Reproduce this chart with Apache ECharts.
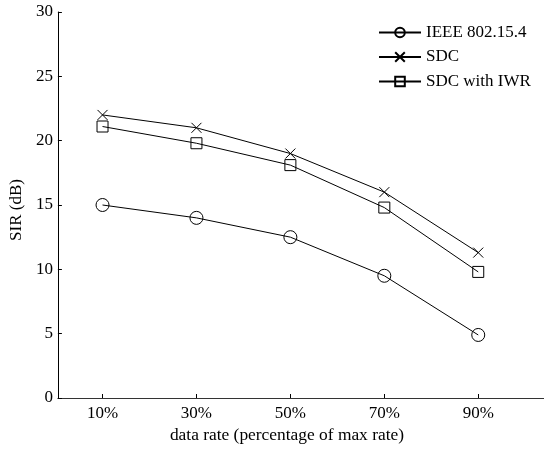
<!DOCTYPE html>
<html>
<head>
<meta charset="utf-8">
<script src="https://cdn.jsdelivr.net/npm/echarts@6/dist/echarts.min.js"></script>
<style>html,body{margin:0;padding:0;background:#fff}#c{width:544px;height:449px}</style>
</head>
<body>
<div id="c"></div>
<script>
const categories = ['10%', '30%', '50%', '70%', '90%'];
const ratePositions = [10, 30, 50, 70, 90];
const ieee = [15, 14, 12.5, 9.5, 4.9];
const sdc = [22, 21, 19, 16, 11.3];
const sdcIwr = [21.1, 19.8, 18.1, 14.8, 9.8];
const yTicks = [0, 5, 10, 15, 20, 25, 30];

const FONT = 'Liberation Serif';
function pts(vals) { return vals.map((v, i) => [ratePositions[i], v]); }
const common = {
  type: 'line',
  lineStyle: { color: '#000', width: 1 },
  itemStyle: { color: 'transparent', borderColor: '#000', borderWidth: 1 },
  emphasis: { disabled: true },
  animation: false
};
const chart = echarts.init(document.getElementById('c'));
chart.setOption({
  backgroundColor: '#fff',
  animation: false,
  textStyle: { fontFamily: FONT, color: '#000' },
  grid: { left: 54, right: 0, top: 12, bottom: 51, containLabel: false },
  legend: {
    left: 378, top: 24, orient: 'vertical', padding: 0,
    itemWidth: 42, itemHeight: 12, itemGap: 7.5,
    textStyle: { fontFamily: FONT, fontSize: 17, color: '#000' },
    data: ['IEEE 802.15.4', 'SDC', 'SDC with IWR']
  },
  xAxis: {
    type: 'value', min: 0.5, max: 104,
    name: 'data rate (percentage of max rate)', nameLocation: 'middle', nameGap: 26,
    nameTextStyle: { fontFamily: FONT, fontSize: 17.4, color: '#000', padding: [0, 28, 0, 0] },
    axisLine: { lineStyle: { color: '#333', width: 1 } },
    axisTick: { inside: true, length: 4, lineStyle: { color: '#000' }, customValues: ratePositions },
    axisLabel: { fontFamily: FONT, fontSize: 17, color: '#000', margin: 7, customValues: ratePositions,
      formatter: v => { const i = ratePositions.indexOf(v); return i >= 0 ? categories[i] : ''; } },
    splitLine: { show: false }
  },
  yAxis: {
    type: 'value', min: 0, max: 30, interval: 5,
    name: 'SIR (dB)', nameLocation: 'middle', nameGap: 31,
    nameTextStyle: { fontFamily: FONT, fontSize: 17, color: '#000', padding: [0, 10, 0, 0] },
    axisLine: { show: true, lineStyle: { color: '#000', width: 1 } },
    axisTick: { show: true, inside: true, length: 4, lineStyle: { color: '#000' } },
    axisLabel: { fontFamily: FONT, fontSize: 17, color: '#000', margin: 5,
      formatter: v => yTicks.includes(v) ? String(v) : '' },
    splitLine: { show: false }
  },
  series: [
    Object.assign({}, common, { name: 'IEEE 802.15.4', symbol: 'circle', symbolSize: 13, data: pts(ieee) }),
    Object.assign({}, common, { name: 'SDC', symbol: 'path://M0,0L10,10M10,0L0,10', symbolSize: 10, data: pts(sdc) }),
    Object.assign({}, common, { name: 'SDC with IWR', symbol: 'rect', symbolSize: 11, data: pts(sdcIwr) })
  ]
});
</script>
</body>
</html>
